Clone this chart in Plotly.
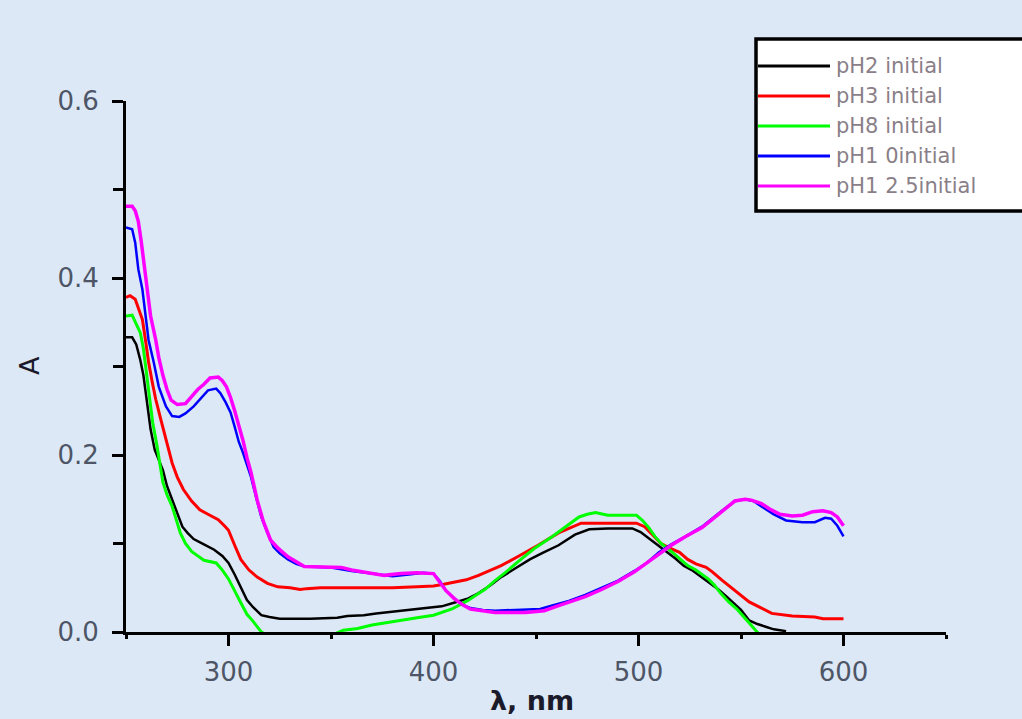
import plotly.graph_objects as go

# ---------------- data ----------------
series_names = ["pH2 initial", "pH3 initial", "pH8 initial", "pH1 0initial", "pH1 2.5initial"]

wl_ph2 = [250, 253, 255, 257, 258.5, 260, 262, 264, 266, 268, 270, 272.5, 275, 277.5, 280, 283, 288, 293,
          297, 300, 303, 306, 309, 312, 316, 320, 325, 340, 353, 358, 366, 372, 380, 390, 398, 404, 410,
          417, 422, 428, 433, 441, 447, 453, 461, 469, 476, 485, 497, 501, 505, 509, 514, 518, 522, 526,
          529, 532, 536, 539, 543, 546, 550, 554, 558, 562, 566, 572]
a_ph2 = [0.333, 0.333, 0.325, 0.307, 0.29, 0.265, 0.229, 0.206, 0.195, 0.183, 0.165, 0.149, 0.133, 0.119,
         0.112, 0.105, 0.099, 0.093, 0.086, 0.078, 0.065, 0.05, 0.036, 0.028, 0.019, 0.017, 0.015, 0.015,
         0.016, 0.018, 0.019, 0.021, 0.023, 0.025, 0.027, 0.029, 0.033, 0.038, 0.044, 0.053, 0.062, 0.074,
         0.082, 0.089, 0.098, 0.11, 0.116, 0.117, 0.117, 0.113, 0.106, 0.098, 0.09, 0.083, 0.075, 0.07,
         0.065, 0.06, 0.054, 0.048, 0.04, 0.034, 0.025, 0.013, 0.009, 0.006, 0.003, 0.001]

wl_ph3 = [250, 252, 254.5, 256, 258, 259.5, 261, 263, 264.5, 267, 270, 272.5, 275, 278, 282, 286, 290, 295,
          298, 300, 303, 306, 310, 314, 319, 324, 330, 335, 338, 345, 360, 380, 392, 400, 405, 410, 416,
          422, 428, 433, 441, 451, 461, 467, 472, 485, 499, 503, 507, 511, 515, 520, 524, 528, 533, 536,
          541, 546, 550, 554, 560, 565, 575, 586, 590, 600]
a_ph3 = [0.378, 0.38, 0.376, 0.365, 0.353, 0.33, 0.305, 0.28, 0.263, 0.24, 0.212, 0.191, 0.175, 0.161,
         0.148, 0.138, 0.133, 0.127, 0.12, 0.115, 0.098, 0.082, 0.07, 0.062, 0.055, 0.051, 0.05, 0.048,
         0.049, 0.05, 0.05, 0.05, 0.051, 0.052, 0.054, 0.056, 0.059, 0.064, 0.07, 0.075, 0.085, 0.098,
         0.112, 0.118, 0.123, 0.123, 0.123, 0.119, 0.11, 0.1, 0.095, 0.09, 0.082, 0.077, 0.073, 0.068,
         0.058, 0.049, 0.041, 0.034, 0.027, 0.021, 0.018, 0.017, 0.015, 0.015]

wl_ph8 = [250, 253, 255, 257, 258.5, 260, 261.5, 263, 265, 266.5, 268, 270, 272.5, 274.5, 276.5, 279, 282,
          285, 288, 294, 297, 300, 303, 306, 309, 312, 316, 320, 340, 352, 356, 363, 370, 376, 384, 392,
          400, 405, 409, 413, 417, 421, 425, 430, 435, 441, 449, 458, 466, 471, 475, 479, 485, 499, 502,
          505, 508, 511, 516, 520, 524, 528, 531, 534, 537, 540, 544, 548, 551, 554, 557, 559]
a_ph8 = [0.357, 0.358, 0.348, 0.338, 0.32, 0.29, 0.26, 0.237, 0.212, 0.19, 0.169, 0.155, 0.142, 0.127,
         0.112, 0.1, 0.091, 0.086, 0.081, 0.078, 0.07, 0.06, 0.046, 0.033, 0.02, 0.012, 0.0, -0.005,
         -0.008, -0.002, 0.002, 0.004, 0.008, 0.01, 0.013, 0.016, 0.019, 0.023, 0.026, 0.031, 0.036,
         0.042, 0.048, 0.058, 0.067, 0.079, 0.094, 0.108, 0.122, 0.13, 0.133, 0.135, 0.132, 0.132, 0.126,
         0.118, 0.108, 0.1, 0.091, 0.083, 0.075, 0.07, 0.065, 0.06, 0.053, 0.044, 0.034, 0.026, 0.018,
         0.01, 0.002, -0.003]

wl_ph10 = [250, 253, 254.5, 256, 258, 259.5, 261, 263.5, 266, 269.5, 272.5, 276, 279, 283, 287, 290, 294,
           296, 298.5, 301, 303, 305, 307, 309, 311, 313.5, 316, 319, 322, 325, 329, 333, 337, 350, 360,
           370, 380, 388, 395, 400, 403, 406, 410, 414, 418, 424, 430, 440, 452, 458, 466, 474, 482, 490,
           498, 504, 510, 516, 523, 531, 539, 547, 552, 556, 560, 566, 572, 580, 586, 591, 594, 597, 600]
a_ph10 = [0.457, 0.455, 0.44, 0.41, 0.387, 0.357, 0.33, 0.305, 0.277, 0.255, 0.244, 0.243, 0.247, 0.255,
          0.266, 0.273, 0.275, 0.27, 0.26, 0.248, 0.232, 0.215, 0.203, 0.188, 0.175, 0.152, 0.13, 0.112,
          0.096, 0.089, 0.082, 0.077, 0.074, 0.073, 0.069, 0.066, 0.063, 0.065, 0.067, 0.066, 0.058,
          0.047, 0.038, 0.031, 0.027, 0.025, 0.024, 0.025, 0.026, 0.03, 0.035, 0.042, 0.05, 0.058, 0.069,
          0.078, 0.09, 0.099, 0.108, 0.119, 0.134, 0.148, 0.15, 0.148, 0.142, 0.133, 0.126, 0.124, 0.124,
          0.129, 0.128, 0.12, 0.108]

wl_ph125 = [250, 253, 254.5, 256, 257.5, 259, 260.5, 262, 264.5, 266, 268, 270, 272, 275, 279, 282, 285,
            288, 291, 295, 297, 299, 301, 303, 305, 307, 309, 311, 314, 317, 320.5, 324, 329, 333, 337,
            355, 360, 368, 376, 384, 392, 400, 403, 406, 410, 414, 418, 424, 430, 445, 454, 460, 466, 474,
            482, 490, 498, 504, 510, 516, 523, 531, 539, 547, 552, 555, 560, 564, 569, 575, 580, 585, 590,
            594, 597, 600]
a_ph125 = [0.481, 0.481, 0.476, 0.464, 0.44, 0.41, 0.38, 0.357, 0.33, 0.31, 0.29, 0.274, 0.262, 0.257,
           0.258, 0.266, 0.274, 0.28, 0.287, 0.288, 0.284, 0.277, 0.265, 0.25, 0.235, 0.217, 0.197, 0.18,
           0.149, 0.125, 0.104, 0.095, 0.085, 0.079, 0.074, 0.073, 0.07, 0.067, 0.064, 0.066, 0.067,
           0.066, 0.057, 0.047, 0.038, 0.031, 0.026, 0.024, 0.022, 0.022, 0.024, 0.029, 0.034, 0.04, 0.048,
           0.057, 0.068, 0.078, 0.089, 0.098, 0.108, 0.118, 0.133, 0.148, 0.15, 0.149, 0.145, 0.139, 0.133,
           0.131, 0.132, 0.136, 0.137, 0.135, 0.13, 0.12]

x_tick_vals = [300, 400, 500, 600]
y_tick_vals = [0.0, 0.2, 0.4, 0.6]
x_title = "λ, nm"
y_title = "A"

# ---------------- styling ----------------
colors = ["#000000", "#ff0000", "#00ff00", "#0000ff", "#ff00ff"]
widths = [2.5, 3, 3, 2.5, 3.5]
BG = "#dce8f5"
TICK_COLOR = "#4d5566"
LEG_TEXT = "#8a7f88"

W_FIG, H_FIG = 1022, 719
M_L, M_R, M_T, M_B = 126, 76, 101, 87
PW = W_FIG - M_L - M_R
PH = H_FIG - M_T - M_B


def px_x(px):
    return (px - M_L) / PW


def px_y(py):
    return (H_FIG - M_B - py) / PH


fig = go.Figure()
data = [(wl_ph2, a_ph2), (wl_ph3, a_ph3), (wl_ph8, a_ph8), (wl_ph10, a_ph10), (wl_ph125, a_ph125)]
for (wl, a), name, c, w in zip(data, series_names, colors, widths):
    fig.add_trace(go.Scatter(x=wl, y=a, mode="lines", name=name, showlegend=False,
                             line=dict(color=c, width=w)))

axis_common = dict(showline=True, linecolor="black", linewidth=3, ticks="outside", tickcolor="black",
                   tickwidth=3, ticklen=11, showgrid=False, zeroline=False, mirror=False,
                   tickfont=dict(family="DejaVu Sans", size=26, color=TICK_COLOR))

fig.update_layout(
    width=W_FIG, height=H_FIG,
    margin=dict(l=M_L, r=M_R, t=M_T, b=M_B),
    paper_bgcolor=BG, plot_bgcolor=BG,
    showlegend=False,
    xaxis=dict(range=[250, 650], tickvals=x_tick_vals, ticklabelstandoff=4,
               minor=dict(ticks="outside", ticklen=4, tickwidth=2.5, tickcolor="black", dtick=50, tick0=250),
               **axis_common),
    yaxis=dict(range=[0, 0.6], tickvals=y_tick_vals, tickformat=".1f", ticklabelstandoff=8,
               minor=dict(ticks="outside", ticklen=10, tickwidth=3, tickcolor="black", dtick=0.1, tick0=0),
               **axis_common),
)

# axis titles
fig.add_annotation(text=x_title, xref="paper", yref="paper", x=px_x(532), y=px_y(718),
                   xanchor="center", yanchor="bottom", showarrow=False,
                   font=dict(family="DejaVu Sans", size=27, color="#1a1a2a", weight="bold"))
fig.add_annotation(text=y_title, xref="paper", yref="paper", x=px_x(29), y=px_y(366),
                   xanchor="center", yanchor="middle", showarrow=False, textangle=-90,
                   font=dict(family="DejaVu Sans", size=27, color="#1a1a2a"))

# legend box (drawn manually to match the reference geometry)
fig.add_shape(type="rect", xref="paper", yref="paper", x0=px_x(756), x1=px_x(1035), y0=px_y(211), y1=px_y(39),
              line=dict(color="black", width=3.5), fillcolor="white", layer="above")
row_y = [66, 96, 126, 156, 186]
for name, c, ry in zip(series_names, colors, row_y):
    fig.add_shape(type="line", xref="paper", yref="paper", x0=px_x(758), x1=px_x(830), y0=px_y(ry), y1=px_y(ry),
                  line=dict(color=c, width=3), layer="above")
    fig.add_annotation(text=name, xref="paper", yref="paper", x=px_x(834), y=px_y(ry),
                       xanchor="left", yanchor="middle", showarrow=False,
                       font=dict(family="DejaVu Sans", size=21, color=LEG_TEXT))

fig.write_html("out.html")
